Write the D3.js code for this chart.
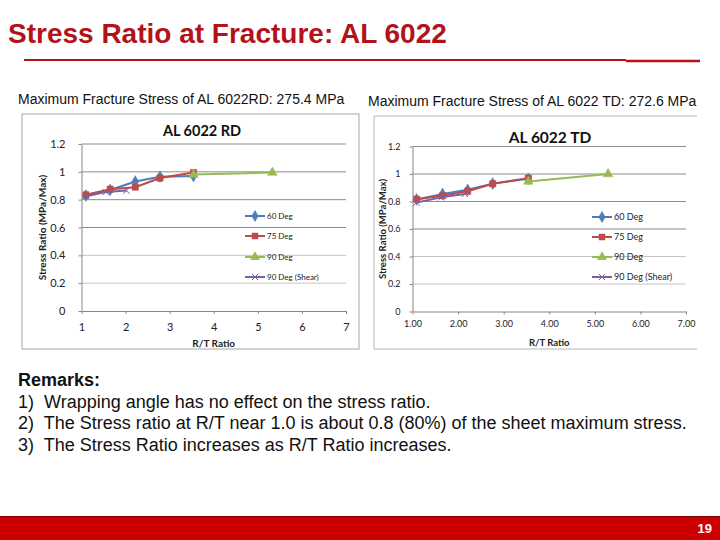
<!DOCTYPE html>
<html>
<head>
<meta charset="utf-8">
<script src="https://cdn.jsdelivr.net/npm/d3@7"></script>
<style>
  body { margin: 0; background: #fff; }
  svg { display: block; }
</style>
</head>
<body>
<svg id="slide" width="720" height="540"></svg>
<script>
// series names + colours (Excel 2007 defaults)
var seriesNames = ["60 Deg", "75 Deg", "90 Deg", "90 Deg (Shear)"];
var seriesColors = ["#4a7ebb", "#be4b48", "#98b954", "#7d60a0"];
var seriesShapes = ["diamond", "square", "triangle", "cross"];

// AL 6022 RD  (R/T ratio, stress ratio)
var rd60x = [1.10, 1.65, 2.22, 2.78, 3.54];
var rd60y = [0.83, 0.87, 0.93, 0.965, 0.97];
var rd75x = [1.10, 1.65, 2.22, 2.78, 3.54];
var rd75y = [0.835, 0.875, 0.89, 0.955, 0.995];
var rd90x = [3.54, 5.33];
var rd90y = [0.98, 0.995];
var rdShx = [1.10, 1.55, 2.02];
var rdShy = [0.825, 0.855, 0.865];

// AL 6022 TD
var td60x = [1.09, 1.66, 2.21, 2.76, 3.54];
var td60y = [0.815, 0.855, 0.885, 0.93, 0.965];
var td75x = [1.09, 1.66, 2.21, 2.76, 3.54];
var td75y = [0.817, 0.842, 0.875, 0.929, 0.97];
var td90x = [3.54, 5.29];
var td90y = [0.945, 1.0];
var tdShx = [1.09, 1.63, 2.15];
var tdShy = [0.793, 0.83, 0.855];

var xTicks = [1, 2, 3, 4, 5, 6, 7];
var yTicks = [0, 0.2, 0.4, 0.6, 0.8, 1, 1.2];

var remarks = [
  "1)  Wrapping angle has no effect on the stress ratio.",
  "2)  The Stress ratio at R/T near 1.0 is about 0.8 (80%) of the sheet maximum stress.",
  "3)  The Stress Ratio increases as R/T Ratio increases."
];

var svg = d3.select("#slide");
var chartFont = "Lato, 'Open Sans', sans-serif";
var slideFont = "'Liberation Sans', Arial, sans-serif";

// ---- slide header ----
svg.append("text")
  .attr("x", 8).attr("y", 42.5)
  .attr("font-family", slideFont).attr("font-weight", "bold")
  .attr("font-size", 28).attr("fill", "#b3121b")
  .text("Stress Ratio at Fracture: AL 6022");

svg.append("line")
  .attr("x1", 24).attr("x2", 626).attr("y1", 60).attr("y2", 60)
  .attr("stroke", "#b3121b").attr("stroke-width", 2);
svg.append("line")
  .attr("x1", 626).attr("x2", 700).attr("y1", 61).attr("y2", 61)
  .attr("stroke", "#b3121b").attr("stroke-width", 2.5);

svg.append("text")
  .attr("x", 18).attr("y", 104)
  .attr("font-family", slideFont).attr("font-size", 14).attr("fill", "#111")
  .text("Maximum Fracture Stress of AL 6022RD: 275.4 MPa");
svg.append("text")
  .attr("x", 368).attr("y", 106)
  .attr("font-family", slideFont).attr("font-size", 14).attr("fill", "#111")
  .text("Maximum Fracture Stress of AL 6022 TD: 272.6 MPa");

function symbolFor(shape, size) {
  if (shape == "diamond") return d3.symbol(d3.symbolDiamond, size)();
  if (shape == "square") return d3.symbol(d3.symbolSquare, size)();
  if (shape == "triangle") return d3.symbol(d3.symbolTriangle, size)();
  return d3.symbol(d3.symbolX, size)();
}

function drawChart(opt) {
  var g = svg.append("g");

  // chart frame
  if (opt.frame == "box") {
    g.append("rect")
      .attr("x", opt.box[0]).attr("y", opt.box[1])
      .attr("width", opt.box[2] - opt.box[0]).attr("height", opt.box[3] - opt.box[1])
      .attr("fill", "#fff").attr("stroke", "#a6a6a6");
  } else {
    g.append("rect")
      .attr("x", opt.box[0]).attr("y", opt.box[1])
      .attr("width", opt.box[2] - opt.box[0]).attr("height", opt.box[3] - opt.box[1])
      .attr("fill", "#fff");
    g.append("path")
      .attr("d", "M" + opt.box[2] + "," + opt.box[1] + "H" + opt.box[0] + "V" + opt.box[3] + "H" + opt.box[2])
      .attr("fill", "none").attr("stroke", "#b8b8b8");
  }

  var x = d3.scaleLinear().domain([1, 7]).range([opt.left, opt.right]);
  var y = d3.scaleLinear().domain([0, 1.2]).range([opt.bottom, opt.top]);

  // gridlines
  g.append("g").selectAll("line")
    .data(yTicks.filter(function(t) { return t > 0; }))
    .join("line")
    .attr("x1", opt.left).attr("x2", opt.right)
    .attr("y1", function(d) { return y(d); }).attr("y2", function(d) { return y(d); })
    .attr("stroke", function(d) { return d >= 0.6 ? "#8c8c8c" : "#c4c4c4"; })
    .attr("stroke-width", 1);

  var xAxis = g.append("g")
    .attr("transform", "translate(0," + opt.bottom + ")")
    .call(d3.axisBottom(x).tickValues(xTicks).tickSize(3).tickSizeOuter(0)
      .tickFormat(opt.xFormat));
  var yAxis = g.append("g")
    .attr("transform", "translate(" + opt.left + ",0)")
    .call(d3.axisLeft(y).tickValues(yTicks).tickSize(3).tickSizeOuter(0)
      .tickFormat(function(d) { return d3.format("")(+d.toFixed(1)); }));
  [xAxis, yAxis].forEach(function(a) {
    a.select(".domain").attr("stroke", "#868686");
    a.selectAll(".tick line").attr("stroke", "#868686");
    a.selectAll(".tick text")
      .attr("font-family", chartFont).attr("font-size", opt.tickSize).attr("fill", "#222");
  });
  xAxis.selectAll(".tick text").attr("dy", opt.xTickDy);
  yAxis.selectAll(".tick text").attr("dx", opt.yTickDx);

  // titles
  g.append("text")
    .attr("x", opt.titleX).attr("y", opt.titleY).attr("text-anchor", "middle")
    .attr("font-family", chartFont).attr("font-weight", "bold")
    .attr("font-size", opt.titleSize).attr("fill", "#111")
    .text(opt.title);
  g.append("text")
    .attr("x", (opt.left + opt.right) / 2).attr("y", opt.xTitleY).attr("text-anchor", "middle")
    .attr("font-family", chartFont).attr("font-weight", "bold")
    .attr("font-size", opt.axisTitleSize).attr("fill", "#222")
    .text("R/T Ratio");
  g.append("text")
    .attr("transform", "translate(" + opt.yTitleX + "," + ((opt.top + opt.bottom) / 2) + ") rotate(-90)")
    .attr("text-anchor", "middle")
    .attr("font-family", chartFont).attr("font-weight", "bold")
    .attr("font-size", opt.axisTitleSize).attr("fill", "#222")
    .text("Stress Ratio (MPa/Max)");

  // series
  var line = d3.line().x(function(d) { return x(d[0]); }).y(function(d) { return y(d[1]); });
  opt.series.forEach(function(s, i) {
    var pts = d3.zip(s[0], s[1]);
    g.append("path").datum(pts)
      .attr("d", line).attr("fill", "none")
      .attr("stroke", seriesColors[i]).attr("stroke-width", 2);
    g.append("g").selectAll("path")
      .data(pts).join("path")
      .attr("transform", function(d) { return "translate(" + x(d[0]) + "," + y(d[1]) + ")"; })
      .attr("d", symbolFor(seriesShapes[i], seriesShapes[i] == "cross" ? 28 : 40))
      .attr("fill", seriesShapes[i] == "cross" ? "none" : seriesColors[i])
      .attr("stroke", seriesColors[i])
      .attr("stroke-width", seriesShapes[i] == "cross" ? 1 : 0.5);
  });

  // legend
  var lg = g.append("g");
  seriesNames.forEach(function(name, i) {
    var ly = opt.legendY[i];
    lg.append("line")
      .attr("x1", opt.legendX - 22).attr("x2", opt.legendX - 2)
      .attr("y1", ly).attr("y2", ly)
      .attr("stroke", seriesColors[i]).attr("stroke-width", 2);
    lg.append("path")
      .attr("transform", "translate(" + (opt.legendX - 12) + "," + ly + ")")
      .attr("d", symbolFor(seriesShapes[i], seriesShapes[i] == "cross" ? 28 : 36))
      .attr("fill", seriesShapes[i] == "cross" ? "none" : seriesColors[i])
      .attr("stroke", seriesColors[i]).attr("stroke-width", seriesShapes[i] == "cross" ? 1 : 0.5);
    lg.append("text")
      .attr("x", opt.legendX).attr("y", ly).attr("dy", "0.35em")
      .attr("font-family", chartFont).attr("font-size", opt.legendSize).attr("fill", "#222")
      .text(name);
  });
}

drawChart({
  frame: "box", box: [22, 114, 359, 349],
  left: 81.5, right: 346, top: 144, bottom: 311,
  title: "AL 6022 RD", titleX: 202, titleY: 136, titleSize: 14.5,
  tickSize: 11, xTickDy: "1.25em", yTickDx: "-10px",
  xFormat: function(d) { return d; },
  xTitleY: 347, yTitleX: 46, axisTitleSize: 10,
  legendX: 267, legendY: [216, 236, 257, 277], legendSize: 8,
  series: [[rd60x, rd60y], [rd75x, rd75y], [rd90x, rd90y], [rdShx, rdShy]]
});

drawChart({
  frame: "open", box: [374, 116, 697, 349],
  left: 412.5, right: 686, top: 146.5, bottom: 311.5,
  title: "AL 6022 TD", titleX: 550, titleY: 143, titleSize: 15.5,
  tickSize: 9, xTickDy: "1.0em", yTickDx: "-6px",
  xFormat: d3.format(".2f"),
  xTitleY: 346, yTitleX: 386, axisTitleSize: 9.5,
  legendX: 614, legendY: [217, 237, 257, 277], legendSize: 9,
  series: [[td60x, td60y], [td75x, td75y], [td90x, td90y], [tdShx, tdShy]]
});

// ---- remarks ----
svg.append("text")
  .attr("x", 18).attr("y", 386)
  .attr("font-family", slideFont).attr("font-weight", "bold")
  .attr("font-size", 18).attr("fill", "#111")
  .text("Remarks:");
svg.append("g").selectAll("text")
  .data(remarks).join("text")
  .attr("x", 18).attr("y", function(d, i) { return 407.5 + i * 21.5; })
  .attr("font-family", slideFont).attr("font-size", 18).attr("fill", "#111")
  .attr("xml:space", "preserve")
  .text(function(d) { return d; });

// ---- footer bar ----
svg.append("rect")
  .attr("x", 0).attr("y", 516).attr("width", 720).attr("height", 24)
  .attr("fill", "#cc0000");
svg.append("line")
  .attr("x1", 0).attr("x2", 720).attr("y1", 516.5).attr("y2", 516.5)
  .attr("stroke", "#7a0000").attr("stroke-width", 1);
svg.append("text")
  .attr("x", 712).attr("y", 533).attr("text-anchor", "end")
  .attr("font-family", slideFont).attr("font-weight", "bold")
  .attr("font-size", 13).attr("fill", "#fff")
  .text("19");
</script>
</body>
</html>
